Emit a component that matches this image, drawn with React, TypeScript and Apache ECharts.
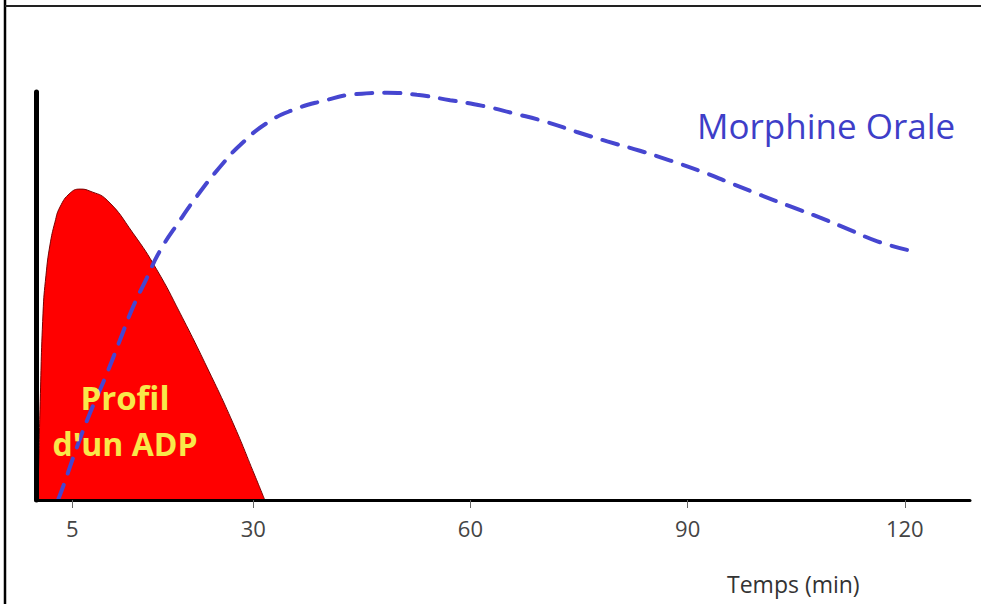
import React, { useEffect, useRef } from "react";
import * as echarts from "echarts";

// Tick labels on the time axis (minutes)
const xTicks = [5, 30, 60, 90, 120];

// "Profil d'un ADP" – [time (min), relative level]
const adpProfile = [
  [0.1, 0], [0.35, 7.4], [0.55, 22.1], [0.97, 45.8], [1.38, 55.1], [1.93, 62.5],
  [2.62, 68.1], [3.31, 71.8], [4.7, 75.2], [6.08, 76.2], [7.46, 75.7],
  [9.81, 73.5], [13.4, 65.4], [16.7, 56.4], [19.9, 45.8], [23.6, 32.6],
  [27.2, 18.9], [30.2, 6.1], [31.6, 0],
];

// "Morphine Orale" – [time (min), relative level]
const morphineOrale = [
  [3.04, 0], [3.73, 3.2], [5.66, 13.0], [7.46, 21.3], [9.81, 31.1], [11.6, 39.2],
  [13.4, 47.3], [15.3, 54.4], [17.1, 61.0], [19.9, 68.6], [22.7, 75.6],
  [25.4, 81.6], [28.2, 87.0], [31.9, 92.4], [35.5, 95.6], [39.6, 97.8],
  [44.3, 99.5], [48.5, 99.8], [52.6, 99.3], [57.2, 98.0], [61.7, 96.6],
  [65.9, 94.8], [70.6, 92.6], [74.7, 90.2], [78.9, 87.9], [83.4, 85.6],
  [87.6, 83.2], [92.1, 80.4], [95.9, 77.7], [100.0, 74.8], [104.1, 72.0],
  [108.3, 69.2], [112.4, 66.2], [116.2, 63.4], [120.3, 61.3],
];

const FONT = '"Open Sans", "DejaVu Sans", sans-serif';

export default function App() {
  const ref = useRef<HTMLDivElement>(null);

  useEffect(() => {
    if (!ref.current) return;
    const chart = echarts.init(ref.current, undefined, { renderer: "svg" });
    chart.setOption({
      animation: false,
      backgroundColor: "#ffffff",
      grid: { left: 36, right: 11, top: 92, bottom: 104, containLabel: false, outerBoundsMode: "none" },
      xAxis: {
        type: "value",
        min: 0,
        max: 129,
        z: 5,
        axisLine: { show: true, lineStyle: { color: "#000", width: 3 } },
        axisTick: { show: true, customValues: xTicks, length: 8, lineStyle: { color: "#666", width: 1 } },
        axisLabel: { customValues: xTicks, fontSize: 22, color: "#444", margin: 17, fontFamily: FONT },
        splitLine: { show: false },
      },
      yAxis: {
        type: "value",
        min: 0,
        max: 100,
        z: 5,
        axisLine: { show: true, lineStyle: { color: "#000", width: 5 } },
        axisTick: { show: false },
        axisLabel: { show: false },
        splitLine: { show: false },
      },
      series: [
        {
          name: "Profil d'un ADP",
          type: "line",
          data: adpProfile,
          symbol: "none",
          smooth: 0.5,
          z: 2,
          lineStyle: { color: "#7a0000", width: 1 },
          areaStyle: { color: "#ff0000", opacity: 1 },
        },
        {
          name: "Morphine Orale",
          type: "line",
          data: morphineOrale,
          symbol: "none",
          smooth: 0.5,
          z: 3,
          lineStyle: { color: "#4646d0", width: 4, type: [16, 12], cap: "round" },
        },
      ],
      graphic: [
        { type: "line", z: 10, shape: { x1: 5, y1: 0, x2: 5, y2: 604 }, style: { stroke: "#000", lineWidth: 2.5 } },
        { type: "line", z: 10, shape: { x1: 5, y1: 6, x2: 981, y2: 6 }, style: { stroke: "#222", lineWidth: 2 } },
        {
          type: "text", z: 10, x: 697, y: 125,
          style: { text: "Morphine Orale", fill: "#3e3ec8", font: `normal 35px ${FONT}`, textAlign: "left", textVerticalAlign: "middle", align: "left", verticalAlign: "middle" },
        },
        {
          type: "text", z: 10, x: 125, y: 397,
          style: { text: "Profil", fill: "#f8e84a", font: `bold 33px ${FONT}`, textAlign: "center", textVerticalAlign: "middle", align: "center", verticalAlign: "middle" },
        },
        {
          type: "text", z: 10, x: 125, y: 443,
          style: { text: "d'un ADP", fill: "#f8e84a", font: `bold 32px ${FONT}`, textAlign: "center", textVerticalAlign: "middle", align: "center", verticalAlign: "middle" },
        },
        {
          type: "text", z: 10, x: 727, y: 584,
          style: { text: "Temps (min)", fill: "#333", font: `normal 23px ${FONT}`, textAlign: "left", textVerticalAlign: "middle", align: "left", verticalAlign: "middle" },
        },
      ],
    });
    return () => chart.dispose();
  }, []);

  return (
    <div
      ref={ref}
      style={{ position: "fixed", left: 0, top: 0, width: 981, height: 604, background: "#fff" }}
    />
  );
}
